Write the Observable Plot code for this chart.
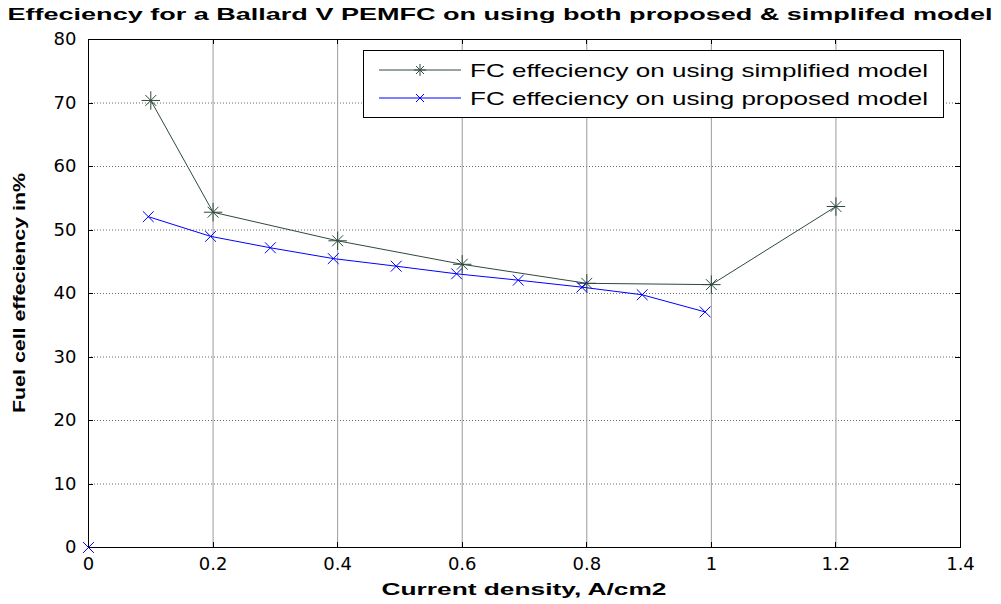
<!DOCTYPE html>
<html>
<head>
<meta charset="utf-8">
<script src="https://cdn.jsdelivr.net/npm/d3@7"></script>
<script src="https://cdn.jsdelivr.net/npm/@observablehq/plot@0.6"></script>
<style>
  html, body { margin: 0; padding: 0; background: #fff; }
  #chart svg { display: block; }
</style>
</head>
<body>
<div id="chart"></div>
<script>
// ---- data ----
const titleText = "Effeciency for a Ballard V PEMFC on using both proposed & simplifed model";
const xLabel = "Current density, A/cm2";
const yLabel = "Fuel cell effeciency in%";
const seriesNames = ["FC effeciency on using simplified model", "FC effeciency on using proposed model"];

const simplifiedX = [0.1, 0.2, 0.4, 0.6, 0.8, 1.0, 1.2];
const simplifiedY = [70.4, 52.8, 48.3, 44.6, 41.6, 41.4, 53.7];

const proposedX = [0.096, 0.196, 0.292, 0.393, 0.494, 0.591, 0.69, 0.792, 0.889, 0.99];
const proposedY = [52.1, 49.0, 47.2, 45.5, 44.3, 43.1, 42.1, 41.0, 39.8, 37.1];

const originX = [0];
const originY = [0];

const xTicks = [0, 0.2, 0.4, 0.6, 0.8, 1, 1.2, 1.4];
const yTicks = [0, 10, 20, 30, 40, 50, 60, 70, 80];

const greenColor = "#2f4a3c";
const blueColor = "#0000ff";

const simplified = simplifiedX.map((x, i) => ({x, y: simplifiedY[i]}));
const proposed = proposedX.map((x, i) => ({x, y: proposedY[i]}));
const origin = originX.map((x, i) => ({x, y: originY[i]}));

const W = 1001, H = 604;
const mL = 88, mR = 41, mT = 39, mB = 57;

const chart = Plot.plot({
  width: W,
  height: H,
  marginLeft: mL,
  marginRight: mR,
  marginTop: mT,
  marginBottom: mB,
  style: {fontFamily: "'DejaVu Sans', sans-serif", fontSize: "18px", color: "#000", background: "#fff"},
  x: {domain: [0, 1.4], label: null},
  y: {domain: [0, 80], label: null},
  marks: [
    Plot.ruleY(yTicks.slice(1, -1), {stroke: "#444", strokeDasharray: "1,2", strokeWidth: 0.8}),
    Plot.ruleX(xTicks.slice(1, -1), {stroke: "#9a9a9a", strokeWidth: 1}),
    Plot.axisX({ticks: xTicks, tickSize: 0, tickPadding: 10, tickFormat: d => String(d), fontSize: 18, label: null}),
    Plot.axisY({ticks: yTicks, tickSize: 0, tickPadding: 12, tickFormat: d => String(d), fontSize: 18, label: null}),
    Plot.frame({stroke: "#000", strokeWidth: 1}),
    Plot.line(simplified, {x: "x", y: "y", stroke: greenColor, strokeWidth: 1}),
    Plot.dot(simplified, {x: "x", y: "y", symbol: "plus", r: 6, stroke: greenColor, strokeWidth: 1}),
    Plot.dot(simplified, {x: "x", y: "y", symbol: "times", r: 5, stroke: greenColor, strokeWidth: 1}),
    Plot.line(proposed, {x: "x", y: "y", stroke: blueColor, strokeWidth: 1}),
    Plot.dot(proposed, {x: "x", y: "y", symbol: "times", r: 5, stroke: blueColor, strokeWidth: 1}),
    Plot.dot(origin, {x: "x", y: "y", symbol: "times", r: 5, stroke: blueColor, strokeWidth: 1})
  ]
});

document.getElementById("chart").appendChild(chart);

// ---- decorations: inward ticks, title, axis labels, legend ----
const svg = d3.select(chart);
const xs = chart.scale("x"), ys = chart.scale("y");
const pLeft = mL, pRight = W - mR, pTop = mT, pBottom = H - mB;
const tk = svg.append("g").attr("stroke", "#000").attr("stroke-width", 1);
xTicks.forEach(t => {
  const px = Math.round(xs.apply(t)) + 0.5;
  tk.append("line").attr("x1", px).attr("x2", px).attr("y1", pBottom).attr("y2", pBottom - 5);
  tk.append("line").attr("x1", px).attr("x2", px).attr("y1", pTop).attr("y2", pTop + 5);
});
yTicks.forEach(t => {
  const py = Math.round(ys.apply(t)) + 0.5;
  tk.append("line").attr("x1", pLeft).attr("x2", pLeft + 5).attr("y1", py).attr("y2", py);
  tk.append("line").attr("x1", pRight).attr("x2", pRight - 5).attr("y1", py).attr("y2", py);
});

svg.append("text")
  .attr("x", 500).attr("y", 20)
  .attr("text-anchor", "middle")
  .attr("font-family", "'Liberation Sans', Arial, sans-serif")
  .attr("font-weight", "bold").attr("font-size", 17)
  .attr("textLength", 985).attr("lengthAdjust", "spacingAndGlyphs")
  .text(titleText);

svg.append("text")
  .attr("x", (pLeft + pRight) / 2).attr("y", 595)
  .attr("text-anchor", "middle")
  .attr("font-family", "'Liberation Sans', Arial, sans-serif")
  .attr("font-weight", "bold").attr("font-size", 17)
  .attr("textLength", 285).attr("lengthAdjust", "spacingAndGlyphs")
  .text(xLabel);

svg.append("text")
  .attr("transform", `translate(25,${(pTop + pBottom) / 2}) rotate(-90)`)
  .attr("text-anchor", "middle")
  .attr("font-family", "'Liberation Sans', Arial, sans-serif")
  .attr("font-weight", "bold").attr("font-size", 17)
  .attr("textLength", 240).attr("lengthAdjust", "spacingAndGlyphs")
  .text(yLabel);

const lg = svg.append("g");
lg.append("rect").attr("x", 363.5).attr("y", 50.5).attr("width", 580).attr("height", 67)
  .attr("fill", "#fff").attr("stroke", "#000").attr("stroke-width", 1);
const rows = [
  {name: seriesNames[0], color: greenColor, y: 70, star: true},
  {name: seriesNames[1], color: blueColor, y: 98, star: false}
];
rows.forEach(r => {
  lg.append("line").attr("x1", 379).attr("x2", 461).attr("y1", r.y).attr("y2", r.y)
    .attr("stroke", r.color).attr("stroke-width", 1);
  const g = lg.append("g").attr("stroke", r.color).attr("stroke-width", 1).attr("transform", `translate(420,${r.y})`);
  g.append("line").attr("x1", -4).attr("x2", 4).attr("y1", -4).attr("y2", 4);
  g.append("line").attr("x1", -4).attr("x2", 4).attr("y1", 4).attr("y2", -4);
  if (r.star) {
    g.append("line").attr("x1", -6).attr("x2", 6).attr("y1", 0).attr("y2", 0);
    g.append("line").attr("x1", 0).attr("x2", 0).attr("y1", -6).attr("y2", 6);
  }
  lg.append("text").attr("x", 470).attr("y", r.y).attr("dy", "0.35em")
    .attr("text-anchor", "start")
    .attr("font-family", "'Liberation Sans', Arial, sans-serif").attr("font-size", 19)
    .attr("textLength", 458).attr("lengthAdjust", "spacingAndGlyphs")
    .text(r.name);
});
</script>
</body>
</html>
